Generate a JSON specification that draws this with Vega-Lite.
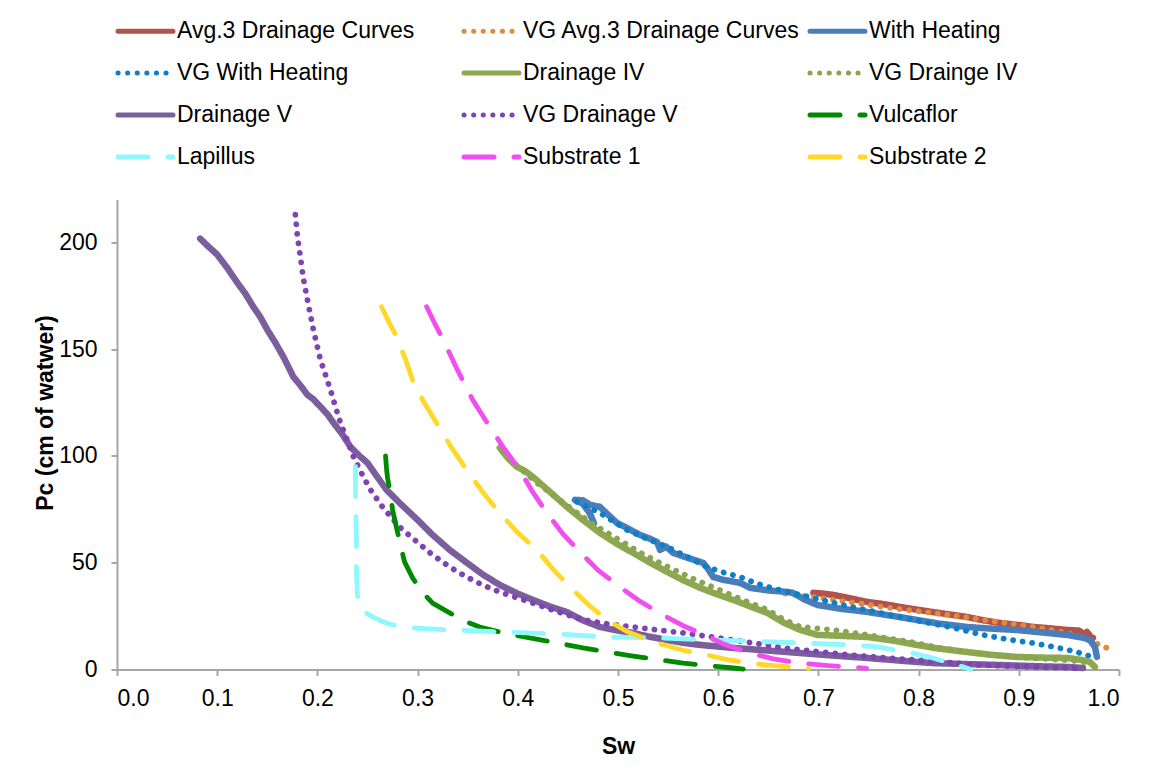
{
"$schema": "https://vega.github.io/schema/vega-lite/v6.json",
"width": 1002, "height": 470,
"autosize": {"type": "none"},
"padding": {"left": 117, "top": 199.5, "right": 33, "bottom": 101.5},
"background": "white",
"config": {
  "font": "Liberation Sans",
  "view": {"stroke": null},
  "axis": {"domainColor": "#a6a6a6", "domainWidth": 2, "tickColor": "#a6a6a6", "tickWidth": 2, "tickSize": 6, "labelFont": "Liberation Sans", "labelFontSize": 23, "labelColor": "#000000", "grid": false, "titleFont": "Liberation Sans", "titleFontSize": 23, "titleFontWeight": "bold", "titleColor": "#000000"},
  "legend": {"padding": 0}
},
"datasets": {
"d": [
{"s":"Avg.3 Drainage Curves","i":0,"x":0.695,"y":35.9},{"s":"Avg.3 Drainage Curves","i":1,"x":0.705,"y":35.5},{"s":"Avg.3 Drainage Curves","i":2,"x":0.715,"y":34.9},{"s":"Avg.3 Drainage Curves","i":3,"x":0.73,"y":33.5},{"s":"Avg.3 Drainage Curves","i":4,"x":0.749,"y":31.6},{"s":"Avg.3 Drainage Curves","i":5,"x":0.765,"y":30.6},{"s":"Avg.3 Drainage Curves","i":6,"x":0.781,"y":29.3},{"s":"Avg.3 Drainage Curves","i":7,"x":0.8,"y":27.9},{"s":"Avg.3 Drainage Curves","i":8,"x":0.814,"y":26.9},{"s":"Avg.3 Drainage Curves","i":9,"x":0.83,"y":25.8},{"s":"Avg.3 Drainage Curves","i":10,"x":0.848,"y":24.6},{"s":"Avg.3 Drainage Curves","i":11,"x":0.865,"y":23.0},{"s":"Avg.3 Drainage Curves","i":12,"x":0.881,"y":21.8},{"s":"Avg.3 Drainage Curves","i":13,"x":0.9,"y":20.8},{"s":"Avg.3 Drainage Curves","i":14,"x":0.914,"y":19.9},{"s":"Avg.3 Drainage Curves","i":15,"x":0.93,"y":19.3},{"s":"Avg.3 Drainage Curves","i":16,"x":0.948,"y":18.5},{"s":"Avg.3 Drainage Curves","i":17,"x":0.96,"y":18.2},{"s":"Avg.3 Drainage Curves","i":18,"x":0.966,"y":16.5},{"s":"Avg.3 Drainage Curves","i":19,"x":0.968,"y":17.6},{"s":"Avg.3 Drainage Curves","i":20,"x":0.972,"y":15.2},{"s":"Avg.3 Drainage Curves","i":21,"x":0.974,"y":14.8},
{"s":"VG Avg.3 Drainage Curves","i":0,"x":0.667,"y":35.5},{"s":"VG Avg.3 Drainage Curves","i":1,"x":0.69,"y":34.2},{"s":"VG Avg.3 Drainage Curves","i":2,"x":0.715,"y":32.6},{"s":"VG Avg.3 Drainage Curves","i":3,"x":0.74,"y":31.0},{"s":"VG Avg.3 Drainage Curves","i":4,"x":0.764,"y":29.3},{"s":"VG Avg.3 Drainage Curves","i":5,"x":0.79,"y":27.8},{"s":"VG Avg.3 Drainage Curves","i":6,"x":0.814,"y":26.5},{"s":"VG Avg.3 Drainage Curves","i":7,"x":0.84,"y":24.9},{"s":"VG Avg.3 Drainage Curves","i":8,"x":0.864,"y":23.2},{"s":"VG Avg.3 Drainage Curves","i":9,"x":0.89,"y":21.6},{"s":"VG Avg.3 Drainage Curves","i":10,"x":0.914,"y":19.9},{"s":"VG Avg.3 Drainage Curves","i":11,"x":0.935,"y":18.2},{"s":"VG Avg.3 Drainage Curves","i":12,"x":0.948,"y":17.1},{"s":"VG Avg.3 Drainage Curves","i":13,"x":0.962,"y":15.3},{"s":"VG Avg.3 Drainage Curves","i":14,"x":0.974,"y":12.9},{"s":"VG Avg.3 Drainage Curves","i":15,"x":0.982,"y":11.2},{"s":"VG Avg.3 Drainage Curves","i":16,"x":0.988,"y":10.1},
{"s":"With Heating","i":0,"x":0.476,"y":68.5},{"s":"With Heating","i":1,"x":0.472,"y":73},{"s":"With Heating","i":2,"x":0.465,"y":77.5},{"s":"With Heating","i":3,"x":0.457,"y":79.4},{"s":"With Heating","i":4,"x":0.465,"y":79.2},{"s":"With Heating","i":5,"x":0.472,"y":77.1},{"s":"With Heating","i":6,"x":0.482,"y":76.1},{"s":"With Heating","i":7,"x":0.49,"y":72.5},{"s":"With Heating","i":8,"x":0.499,"y":68.6},{"s":"With Heating","i":9,"x":0.51,"y":66},{"s":"With Heating","i":10,"x":0.522,"y":63},{"s":"With Heating","i":11,"x":0.532,"y":61.2},{"s":"With Heating","i":12,"x":0.539,"y":59.7},{"s":"With Heating","i":13,"x":0.542,"y":56},{"s":"With Heating","i":14,"x":0.548,"y":57.5},{"s":"With Heating","i":15,"x":0.555,"y":54.6},{"s":"With Heating","i":16,"x":0.57,"y":52.2},{"s":"With Heating","i":17,"x":0.585,"y":49.9},{"s":"With Heating","i":18,"x":0.59,"y":47},{"s":"With Heating","i":19,"x":0.595,"y":43.3},{"s":"With Heating","i":20,"x":0.605,"y":42},{"s":"With Heating","i":21,"x":0.622,"y":40.5},{"s":"With Heating","i":22,"x":0.632,"y":38.2},{"s":"With Heating","i":23,"x":0.65,"y":37},{"s":"With Heating","i":24,"x":0.669,"y":36.3},{"s":"With Heating","i":25,"x":0.675,"y":35.8},{"s":"With Heating","i":26,"x":0.685,"y":33},{"s":"With Heating","i":27,"x":0.699,"y":30.2},{"s":"With Heating","i":28,"x":0.72,"y":28.6},{"s":"With Heating","i":29,"x":0.749,"y":26.9},{"s":"With Heating","i":30,"x":0.775,"y":25},{"s":"With Heating","i":31,"x":0.798,"y":23.2},{"s":"With Heating","i":32,"x":0.82,"y":21.5},{"s":"With Heating","i":33,"x":0.848,"y":19.9},{"s":"With Heating","i":34,"x":0.87,"y":19.2},{"s":"With Heating","i":35,"x":0.898,"y":18.5},{"s":"With Heating","i":36,"x":0.92,"y":17.5},{"s":"With Heating","i":37,"x":0.948,"y":16.2},{"s":"With Heating","i":38,"x":0.965,"y":14.8},{"s":"With Heating","i":39,"x":0.971,"y":13.8},{"s":"With Heating","i":40,"x":0.976,"y":10.5},{"s":"With Heating","i":41,"x":0.978,"y":5.9},
{"s":"VG With Heating","i":0,"x":0.459,"y":78.5},{"s":"VG With Heating","i":1,"x":0.47,"y":76},{"s":"VG With Heating","i":2,"x":0.482,"y":73.3},{"s":"VG With Heating","i":3,"x":0.495,"y":69.5},{"s":"VG With Heating","i":4,"x":0.509,"y":65.3},{"s":"VG With Heating","i":5,"x":0.53,"y":61},{"s":"VG With Heating","i":6,"x":0.549,"y":57.4},{"s":"VG With Heating","i":7,"x":0.57,"y":52.5},{"s":"VG With Heating","i":8,"x":0.589,"y":48},{"s":"VG With Heating","i":9,"x":0.605,"y":45.5},{"s":"VG With Heating","i":10,"x":0.622,"y":43.3},{"s":"VG With Heating","i":11,"x":0.64,"y":40},{"s":"VG With Heating","i":12,"x":0.655,"y":38},{"s":"VG With Heating","i":13,"x":0.682,"y":34.9},{"s":"VG With Heating","i":14,"x":0.71,"y":31.8},{"s":"VG With Heating","i":15,"x":0.732,"y":29.3},{"s":"VG With Heating","i":16,"x":0.757,"y":27},{"s":"VG With Heating","i":17,"x":0.781,"y":24.6},{"s":"VG With Heating","i":18,"x":0.806,"y":22.2},{"s":"VG With Heating","i":19,"x":0.831,"y":19.9},{"s":"VG With Heating","i":20,"x":0.864,"y":16.2},{"s":"VG With Heating","i":21,"x":0.89,"y":14},{"s":"VG With Heating","i":22,"x":0.914,"y":12.4},{"s":"VG With Heating","i":23,"x":0.936,"y":10.5},{"s":"VG With Heating","i":24,"x":0.958,"y":8.2},{"s":"VG With Heating","i":25,"x":0.968,"y":6.6},{"s":"VG With Heating","i":26,"x":0.976,"y":5.8},
{"s":"Drainage IV","i":0,"x":0.382,"y":103.8},{"s":"Drainage IV","i":1,"x":0.39,"y":99},{"s":"Drainage IV","i":2,"x":0.399,"y":94.9},{"s":"Drainage IV","i":3,"x":0.407,"y":93},{"s":"Drainage IV","i":4,"x":0.415,"y":90.2},{"s":"Drainage IV","i":5,"x":0.43,"y":84},{"s":"Drainage IV","i":6,"x":0.449,"y":76.1},{"s":"Drainage IV","i":7,"x":0.465,"y":70},{"s":"Drainage IV","i":8,"x":0.482,"y":63.9},{"s":"Drainage IV","i":9,"x":0.5,"y":58.5},{"s":"Drainage IV","i":10,"x":0.515,"y":54.6},{"s":"Drainage IV","i":11,"x":0.53,"y":50.5},{"s":"Drainage IV","i":12,"x":0.549,"y":45.7},{"s":"Drainage IV","i":13,"x":0.565,"y":41.8},{"s":"Drainage IV","i":14,"x":0.582,"y":38.2},{"s":"Drainage IV","i":15,"x":0.6,"y":35},{"s":"Drainage IV","i":16,"x":0.615,"y":32.6},{"s":"Drainage IV","i":17,"x":0.632,"y":29.5},{"s":"Drainage IV","i":18,"x":0.649,"y":26.5},{"s":"Drainage IV","i":19,"x":0.665,"y":22},{"s":"Drainage IV","i":20,"x":0.682,"y":18.5},{"s":"Drainage IV","i":21,"x":0.699,"y":16.2},{"s":"Drainage IV","i":22,"x":0.72,"y":15.8},{"s":"Drainage IV","i":23,"x":0.749,"y":15.2},{"s":"Drainage IV","i":24,"x":0.775,"y":13.5},{"s":"Drainage IV","i":25,"x":0.798,"y":11.5},{"s":"Drainage IV","i":26,"x":0.82,"y":9.8},{"s":"Drainage IV","i":27,"x":0.848,"y":8.2},{"s":"Drainage IV","i":28,"x":0.87,"y":7},{"s":"Drainage IV","i":29,"x":0.898,"y":5.9},{"s":"Drainage IV","i":30,"x":0.92,"y":5.6},{"s":"Drainage IV","i":31,"x":0.948,"y":5.4},{"s":"Drainage IV","i":32,"x":0.962,"y":4.5},{"s":"Drainage IV","i":33,"x":0.971,"y":3.5},{"s":"Drainage IV","i":34,"x":0.976,"y":1.2},
{"s":"VG Drainge IV","i":0,"x":0.385,"y":102},{"s":"VG Drainge IV","i":1,"x":0.4,"y":95},{"s":"VG Drainge IV","i":2,"x":0.42,"y":87},{"s":"VG Drainge IV","i":3,"x":0.45,"y":76.5},{"s":"VG Drainge IV","i":4,"x":0.475,"y":68},{"s":"VG Drainge IV","i":5,"x":0.5,"y":61},{"s":"VG Drainge IV","i":6,"x":0.525,"y":54},{"s":"VG Drainge IV","i":7,"x":0.55,"y":48},{"s":"VG Drainge IV","i":8,"x":0.575,"y":42.5},{"s":"VG Drainge IV","i":9,"x":0.6,"y":37.5},{"s":"VG Drainge IV","i":10,"x":0.625,"y":32.5},{"s":"VG Drainge IV","i":11,"x":0.649,"y":28},{"s":"VG Drainge IV","i":12,"x":0.665,"y":23.5},{"s":"VG Drainge IV","i":13,"x":0.682,"y":20},{"s":"VG Drainge IV","i":14,"x":0.7,"y":19.2},{"s":"VG Drainge IV","i":15,"x":0.715,"y":18.5},{"s":"VG Drainge IV","i":16,"x":0.749,"y":16.2},{"s":"VG Drainge IV","i":17,"x":0.775,"y":14.2},{"s":"VG Drainge IV","i":18,"x":0.798,"y":12.4},{"s":"VG Drainge IV","i":19,"x":0.82,"y":10.2},{"s":"VG Drainge IV","i":20,"x":0.848,"y":8.2},{"s":"VG Drainge IV","i":21,"x":0.87,"y":7},{"s":"VG Drainge IV","i":22,"x":0.898,"y":5.9},{"s":"VG Drainge IV","i":23,"x":0.92,"y":5.1},{"s":"VG Drainge IV","i":24,"x":0.948,"y":4.4},{"s":"VG Drainge IV","i":25,"x":0.974,"y":3.0},
{"s":"Drainage V","i":0,"x":0.083,"y":201.7},{"s":"Drainage V","i":1,"x":0.09,"y":198.5},{"s":"Drainage V","i":2,"x":0.1,"y":194.2},{"s":"Drainage V","i":3,"x":0.11,"y":188},{"s":"Drainage V","i":4,"x":0.12,"y":181.1},{"s":"Drainage V","i":5,"x":0.128,"y":176},{"s":"Drainage V","i":6,"x":0.136,"y":169.8},{"s":"Drainage V","i":7,"x":0.143,"y":165},{"s":"Drainage V","i":8,"x":0.15,"y":159},{"s":"Drainage V","i":9,"x":0.158,"y":153},{"s":"Drainage V","i":10,"x":0.166,"y":146.4},{"s":"Drainage V","i":11,"x":0.176,"y":137},{"s":"Drainage V","i":12,"x":0.183,"y":133},{"s":"Drainage V","i":13,"x":0.19,"y":128.6},{"s":"Drainage V","i":14,"x":0.196,"y":126.5},{"s":"Drainage V","i":15,"x":0.203,"y":123},{"s":"Drainage V","i":16,"x":0.21,"y":119.5},{"s":"Drainage V","i":17,"x":0.216,"y":115.5},{"s":"Drainage V","i":18,"x":0.225,"y":110},{"s":"Drainage V","i":19,"x":0.233,"y":104.2},{"s":"Drainage V","i":20,"x":0.242,"y":100},{"s":"Drainage V","i":21,"x":0.25,"y":96.7},{"s":"Drainage V","i":22,"x":0.26,"y":90},{"s":"Drainage V","i":23,"x":0.269,"y":84.1},{"s":"Drainage V","i":24,"x":0.282,"y":78},{"s":"Drainage V","i":25,"x":0.3,"y":70},{"s":"Drainage V","i":26,"x":0.315,"y":63},{"s":"Drainage V","i":27,"x":0.332,"y":56},{"s":"Drainage V","i":28,"x":0.349,"y":50},{"s":"Drainage V","i":29,"x":0.365,"y":44.5},{"s":"Drainage V","i":30,"x":0.382,"y":39.6},{"s":"Drainage V","i":31,"x":0.4,"y":35.5},{"s":"Drainage V","i":32,"x":0.415,"y":32.6},{"s":"Drainage V","i":33,"x":0.432,"y":29.5},{"s":"Drainage V","i":34,"x":0.449,"y":26.9},{"s":"Drainage V","i":35,"x":0.465,"y":23},{"s":"Drainage V","i":36,"x":0.482,"y":19.9},{"s":"Drainage V","i":37,"x":0.5,"y":18.2},{"s":"Drainage V","i":38,"x":0.515,"y":17.1},{"s":"Drainage V","i":39,"x":0.53,"y":15.5},{"s":"Drainage V","i":40,"x":0.549,"y":13.8},{"s":"Drainage V","i":41,"x":0.565,"y":12.5},{"s":"Drainage V","i":42,"x":0.582,"y":11.5},{"s":"Drainage V","i":43,"x":0.615,"y":10.1},{"s":"Drainage V","i":44,"x":0.632,"y":9.5},{"s":"Drainage V","i":45,"x":0.66,"y":8.5},{"s":"Drainage V","i":46,"x":0.682,"y":7.7},{"s":"Drainage V","i":47,"x":0.715,"y":6.5},{"s":"Drainage V","i":48,"x":0.749,"y":5.4},{"s":"Drainage V","i":49,"x":0.78,"y":4.2},{"s":"Drainage V","i":50,"x":0.814,"y":3.0},{"s":"Drainage V","i":51,"x":0.85,"y":2.5},{"s":"Drainage V","i":52,"x":0.881,"y":2.1},{"s":"Drainage V","i":53,"x":0.92,"y":1.5},{"s":"Drainage V","i":54,"x":0.948,"y":1.2},{"s":"Drainage V","i":55,"x":0.964,"y":0.7},
{"s":"VG Drainage V","i":0,"x":0.178,"y":212.9},{"s":"VG Drainage V","i":1,"x":0.18,"y":203},{"s":"VG Drainage V","i":2,"x":0.183,"y":193.2},{"s":"VG Drainage V","i":3,"x":0.186,"y":183},{"s":"VG Drainage V","i":4,"x":0.19,"y":173.1},{"s":"VG Drainage V","i":5,"x":0.196,"y":159},{"s":"VG Drainage V","i":6,"x":0.203,"y":145},{"s":"VG Drainage V","i":7,"x":0.208,"y":138},{"s":"VG Drainage V","i":8,"x":0.213,"y":130.9},{"s":"VG Drainage V","i":9,"x":0.218,"y":123},{"s":"VG Drainage V","i":10,"x":0.223,"y":115.5},{"s":"VG Drainage V","i":11,"x":0.23,"y":107},{"s":"VG Drainage V","i":12,"x":0.236,"y":99.5},{"s":"VG Drainage V","i":13,"x":0.245,"y":91},{"s":"VG Drainage V","i":14,"x":0.253,"y":84.1},{"s":"VG Drainage V","i":15,"x":0.265,"y":76.1},{"s":"VG Drainage V","i":16,"x":0.282,"y":66.7},{"s":"VG Drainage V","i":17,"x":0.3,"y":59.5},{"s":"VG Drainage V","i":18,"x":0.315,"y":53.6},{"s":"VG Drainage V","i":19,"x":0.332,"y":48},{"s":"VG Drainage V","i":20,"x":0.349,"y":43.3},{"s":"VG Drainage V","i":21,"x":0.365,"y":39.5},{"s":"VG Drainage V","i":22,"x":0.382,"y":36.3},{"s":"VG Drainage V","i":23,"x":0.4,"y":33.5},{"s":"VG Drainage V","i":24,"x":0.415,"y":31.1},{"s":"VG Drainage V","i":25,"x":0.44,"y":27},{"s":"VG Drainage V","i":26,"x":0.465,"y":23.2},{"s":"VG Drainage V","i":27,"x":0.49,"y":21.3},{"s":"VG Drainage V","i":28,"x":0.515,"y":19.9},{"s":"VG Drainage V","i":29,"x":0.54,"y":18.5},{"s":"VG Drainage V","i":30,"x":0.565,"y":17.1},{"s":"VG Drainage V","i":31,"x":0.59,"y":15.5},{"s":"VG Drainage V","i":32,"x":0.615,"y":13.8},{"s":"VG Drainage V","i":33,"x":0.64,"y":12},{"s":"VG Drainage V","i":34,"x":0.665,"y":10.1},{"s":"VG Drainage V","i":35,"x":0.7,"y":8.3},{"s":"VG Drainage V","i":36,"x":0.732,"y":6.8},{"s":"VG Drainage V","i":37,"x":0.765,"y":5.5},{"s":"VG Drainage V","i":38,"x":0.798,"y":4.4},{"s":"VG Drainage V","i":39,"x":0.83,"y":3.2},{"s":"VG Drainage V","i":40,"x":0.864,"y":2.1},{"s":"VG Drainage V","i":41,"x":0.89,"y":1.6},{"s":"VG Drainage V","i":42,"x":0.914,"y":1.2},{"s":"VG Drainage V","i":43,"x":0.94,"y":0.9},{"s":"VG Drainage V","i":44,"x":0.964,"y":0.7},
{"s":"Vulcaflor","i":0,"x":0.268,"y":100},{"s":"Vulcaflor","i":1,"x":0.269,"y":94},{"s":"Vulcaflor","i":2,"x":0.27,"y":89.7},{"s":"Vulcaflor","i":3,"x":0.273,"y":82},{"s":"Vulcaflor","i":4,"x":0.275,"y":74.7},{"s":"Vulcaflor","i":5,"x":0.279,"y":66.3},{"s":"Vulcaflor","i":6,"x":0.283,"y":58},{"s":"Vulcaflor","i":7,"x":0.287,"y":50.4},{"s":"Vulcaflor","i":8,"x":0.295,"y":42.9},{"s":"Vulcaflor","i":9,"x":0.305,"y":36},{"s":"Vulcaflor","i":10,"x":0.315,"y":31.1},{"s":"Vulcaflor","i":11,"x":0.332,"y":26.5},{"s":"Vulcaflor","i":12,"x":0.345,"y":23},{"s":"Vulcaflor","i":13,"x":0.362,"y":19.9},{"s":"Vulcaflor","i":14,"x":0.385,"y":17.2},{"s":"Vulcaflor","i":15,"x":0.412,"y":14.8},{"s":"Vulcaflor","i":16,"x":0.44,"y":12.4},{"s":"Vulcaflor","i":17,"x":0.465,"y":10.1},{"s":"Vulcaflor","i":18,"x":0.49,"y":8.2},{"s":"Vulcaflor","i":19,"x":0.515,"y":6.3},{"s":"Vulcaflor","i":20,"x":0.54,"y":4.6},{"s":"Vulcaflor","i":21,"x":0.565,"y":3.0},{"s":"Vulcaflor","i":22,"x":0.59,"y":1.8},{"s":"Vulcaflor","i":23,"x":0.615,"y":0.7},{"s":"Vulcaflor","i":24,"x":0.625,"y":0.2},
{"s":"Lapillus","i":0,"x":0.238,"y":95},{"s":"Lapillus","i":1,"x":0.238,"y":80},{"s":"Lapillus","i":2,"x":0.239,"y":60},{"s":"Lapillus","i":3,"x":0.239,"y":45},{"s":"Lapillus","i":4,"x":0.24,"y":35},{"s":"Lapillus","i":5,"x":0.241,"y":31},{"s":"Lapillus","i":6,"x":0.244,"y":28.5},{"s":"Lapillus","i":7,"x":0.25,"y":26},{"s":"Lapillus","i":8,"x":0.26,"y":23.5},{"s":"Lapillus","i":9,"x":0.27,"y":21.5},{"s":"Lapillus","i":10,"x":0.282,"y":20.3},{"s":"Lapillus","i":11,"x":0.3,"y":19.3},{"s":"Lapillus","i":12,"x":0.335,"y":18.5},{"s":"Lapillus","i":13,"x":0.382,"y":17.6},{"s":"Lapillus","i":14,"x":0.439,"y":16.6},{"s":"Lapillus","i":15,"x":0.489,"y":15.2},{"s":"Lapillus","i":16,"x":0.542,"y":14.8},{"s":"Lapillus","i":17,"x":0.592,"y":13.8},{"s":"Lapillus","i":18,"x":0.632,"y":13.3},{"s":"Lapillus","i":19,"x":0.682,"y":12.4},{"s":"Lapillus","i":20,"x":0.732,"y":11.5},{"s":"Lapillus","i":21,"x":0.76,"y":10.5},{"s":"Lapillus","i":22,"x":0.781,"y":8.7},{"s":"Lapillus","i":23,"x":0.8,"y":7},{"s":"Lapillus","i":24,"x":0.814,"y":5.4},{"s":"Lapillus","i":25,"x":0.83,"y":3.2},{"s":"Lapillus","i":26,"x":0.848,"y":0.7},{"s":"Lapillus","i":27,"x":0.852,"y":0},
{"s":"Substrate 1","i":0,"x":0.309,"y":169.8},{"s":"Substrate 1","i":1,"x":0.316,"y":163},{"s":"Substrate 1","i":2,"x":0.324,"y":155.8},{"s":"Substrate 1","i":3,"x":0.34,"y":140},{"s":"Substrate 1","i":4,"x":0.355,"y":126.2},{"s":"Substrate 1","i":5,"x":0.372,"y":113.6},{"s":"Substrate 1","i":6,"x":0.387,"y":103},{"s":"Substrate 1","i":7,"x":0.402,"y":93.4},{"s":"Substrate 1","i":8,"x":0.415,"y":83},{"s":"Substrate 1","i":9,"x":0.429,"y":73.3},{"s":"Substrate 1","i":10,"x":0.445,"y":63.5},{"s":"Substrate 1","i":11,"x":0.462,"y":55},{"s":"Substrate 1","i":12,"x":0.48,"y":46.5},{"s":"Substrate 1","i":13,"x":0.502,"y":38.6},{"s":"Substrate 1","i":14,"x":0.52,"y":32.5},{"s":"Substrate 1","i":15,"x":0.545,"y":25.5},{"s":"Substrate 1","i":16,"x":0.565,"y":20.5},{"s":"Substrate 1","i":17,"x":0.582,"y":17.1},{"s":"Substrate 1","i":18,"x":0.605,"y":12},{"s":"Substrate 1","i":19,"x":0.632,"y":7.7},{"s":"Substrate 1","i":20,"x":0.655,"y":5},{"s":"Substrate 1","i":21,"x":0.682,"y":3.0},{"s":"Substrate 1","i":22,"x":0.71,"y":1.8},{"s":"Substrate 1","i":23,"x":0.742,"y":0.8},{"s":"Substrate 1","i":24,"x":0.748,"y":0.5},
{"s":"Substrate 2","i":0,"x":0.264,"y":169.8},{"s":"Substrate 2","i":1,"x":0.272,"y":162},{"s":"Substrate 2","i":2,"x":0.279,"y":155.8},{"s":"Substrate 2","i":3,"x":0.288,"y":145},{"s":"Substrate 2","i":4,"x":0.296,"y":134},{"s":"Substrate 2","i":5,"x":0.305,"y":126.2},{"s":"Substrate 2","i":6,"x":0.322,"y":113},{"s":"Substrate 2","i":7,"x":0.335,"y":103},{"s":"Substrate 2","i":8,"x":0.349,"y":93.4},{"s":"Substrate 2","i":9,"x":0.365,"y":83},{"s":"Substrate 2","i":10,"x":0.382,"y":73.3},{"s":"Substrate 2","i":11,"x":0.4,"y":64},{"s":"Substrate 2","i":12,"x":0.419,"y":56},{"s":"Substrate 2","i":13,"x":0.435,"y":47},{"s":"Substrate 2","i":14,"x":0.452,"y":38.6},{"s":"Substrate 2","i":15,"x":0.47,"y":30.5},{"s":"Substrate 2","i":16,"x":0.489,"y":23.2},{"s":"Substrate 2","i":17,"x":0.51,"y":17.5},{"s":"Substrate 2","i":18,"x":0.539,"y":12.4},{"s":"Substrate 2","i":19,"x":0.565,"y":9},{"s":"Substrate 2","i":20,"x":0.589,"y":6.8},{"s":"Substrate 2","i":21,"x":0.61,"y":4.5},{"s":"Substrate 2","i":22,"x":0.632,"y":3},{"s":"Substrate 2","i":23,"x":0.65,"y":2},{"s":"Substrate 2","i":24,"x":0.672,"y":1.2},{"s":"Substrate 2","i":25,"x":0.69,"y":0.5}
]
},
"data": {"name": "d"},
"mark": {"type": "line", "strokeCap": "round", "strokeJoin": "round", "clip": false},
"encoding": {
  "x": {"field": "x", "type": "quantitative", "scale": {"domain": [0, 1], "nice": false, "zero": false},
        "axis": {"values": [0, 0.1, 0.2, 0.3, 0.4, 0.5, 0.6, 0.7, 0.8, 0.9, 1.0], "format": ".1f", "title": "Sᴡ", "labelPadding": 12, "titleX": 501, "titleY": 77, "titleBaseline": "middle", "titleAlign": "center"}},
  "y": {"field": "y", "type": "quantitative", "scale": {"domain": [0, 220], "nice": false},
        "axis": {"values": [0, 50, 100, 150, 200], "title": "Pᴄ (cm of watwer)", "labelPadding": 14, "titleX": -72, "titleY": 213, "titleAngle": -90, "titleBaseline": "middle", "titleAlign": "center"}},
  "color": {"field": "s", "type": "nominal",
    "scale": {"domain": ["Avg.3 Drainage Curves","VG Avg.3 Drainage Curves","With Heating","VG With Heating","Drainage IV","VG Drainge IV","Drainage V","VG Drainage V","Vulcaflor","Lapillus","Substrate 1","Substrate 2"],
              "range": ["#b3514b","#e08a3c","#4a7ebb","#0b7fc9","#8ea851","#8aa54f","#7b5e9c","#7f43b4","#008a00","#8ff7ff","#f24df0","#ffd82a"]},
    "legend": {"orient": "none", "legendX": 12, "legendY": -185, "direction": "horizontal", "columns": 3, "title": null,
               "symbolType": "M-2,0H2", "symbolSize": 756, "symbolStrokeWidth": 5, "labelFont": "Liberation Sans", "labelFontSize": 23, "labelColor": "#000000",
               "labelOffset": 15, "columnPadding": 0, "rowPadding": 13, "gridAlign": "all", "labelLimit": 400,
               "encode": {"symbols": {"update": {"strokeCap": {"value": "round"}}}}}},
  "strokeDash": {"field": "s", "type": "nominal",
    "scale": {"domain": ["Avg.3 Drainage Curves","VG Avg.3 Drainage Curves","With Heating","VG With Heating","Drainage IV","VG Drainge IV","Drainage V","VG Drainage V","Vulcaflor","Lapillus","Substrate 1","Substrate 2"],
              "range": [[1,0],[0.1,9.5],[1,0],[0.1,9.5],[1,0],[0.1,9.5],[1,0],[0.1,9.5],[30,20],[30,20],[30,20],[30,20]]}},
  "strokeWidth": {"condition": [{"test": "indexof(['Avg.3 Drainage Curves','With Heating','Drainage IV','Drainage V'], datum.s) >= 0", "value": 6.5}, {"test": "indexof(datum.s, 'VG') == 0", "value": 5.8}], "value": 4.8},
  "order": {"field": "i", "type": "quantitative"}
}
}
